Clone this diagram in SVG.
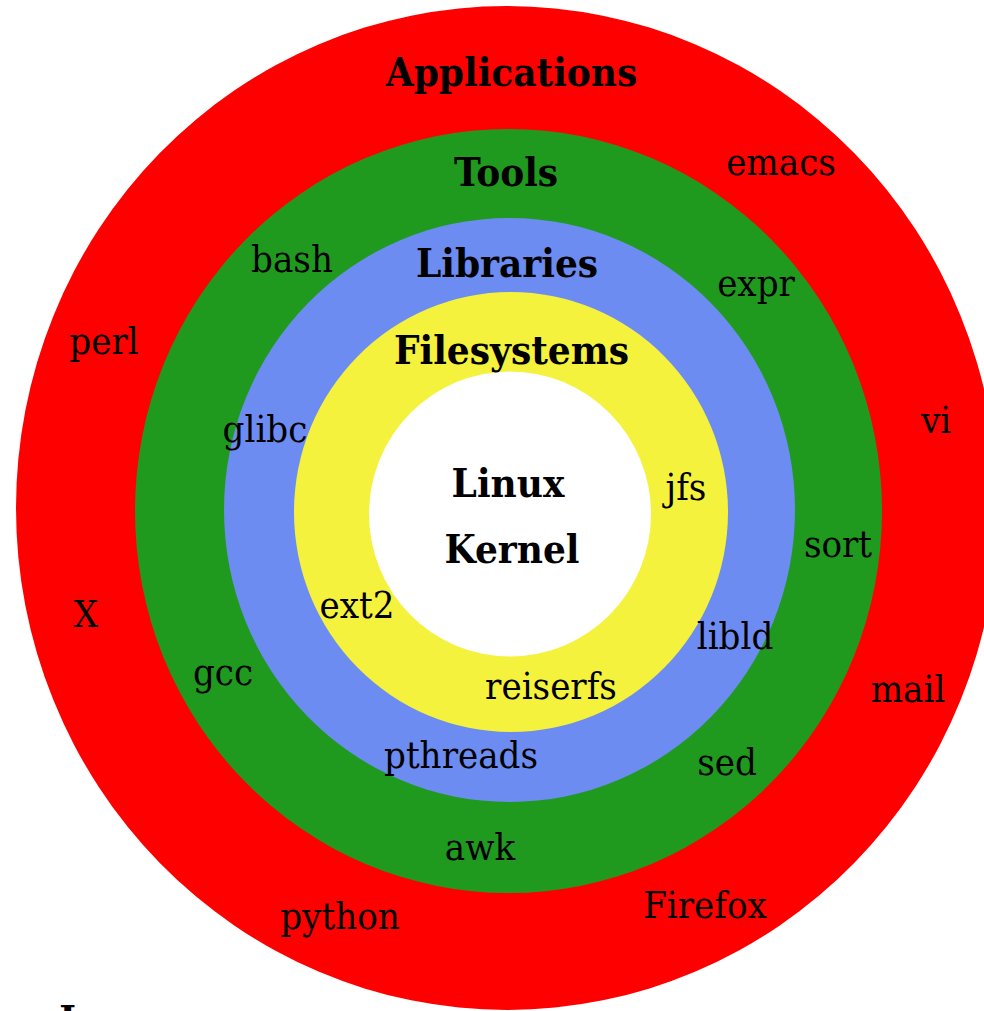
<svg xmlns="http://www.w3.org/2000/svg" width="984" height="1011" viewBox="0 0 984 1011">
<style>
text{font-family:'DejaVu Serif Condensed','DejaVu Serif',serif;font-stretch:condensed;fill:#000;text-anchor:middle}
.h{font-weight:bold;font-size:40px}
.t{font-size:38px}
</style>
<rect width="984" height="1011" fill="#fff"/>
<g id="applications">
<ellipse cx="507" cy="508" rx="491" ry="502" fill="#ff0000"/>
</g>
<g id="tools">
<ellipse cx="508.5" cy="511" rx="373.5" ry="382" fill="#1f9a1f"/>
</g>
<g id="libraries">
<ellipse cx="509.5" cy="510" rx="285.5" ry="292" fill="#6c8cf2"/>
</g>
<g id="filesystems">
<ellipse cx="511" cy="512" rx="217" ry="220" fill="#f5f23d"/>
</g>
<g id="kernel">
<ellipse cx="510" cy="514" rx="141" ry="142.5" fill="#ffffff"/>
</g>
<g id="titles">
<text class="h" x="511.5" y="86">Applications</text>
<text class="h" x="506" y="186">Tools</text>
<text class="h" x="507" y="277">Libraries</text>
<text class="h" x="511.5" y="364">Filesystems</text>
<text class="h" x="508" y="497">Linux</text>
<text class="h" x="512" y="563">Kernel</text>
</g>
<g id="labels">
<text class="t" x="781" y="175">emacs</text>
<text class="t" x="292" y="272">bash</text>
<text class="t" x="756" y="296">expr</text>
<text class="t" x="104" y="354">perl</text>
<text class="t" x="936" y="433">vi</text>
<text class="t" x="265" y="442">glibc</text>
<text class="t" x="686" y="500">jfs</text>
<text class="t" x="838" y="557">sort</text>
<text class="t" x="86" y="627">X</text>
<text class="t" x="357" y="618">ext2</text>
<text class="t" x="735" y="649">libld</text>
<text class="t" x="223" y="685">gcc</text>
<text class="t" x="908" y="702">mail</text>
<text class="t" x="551" y="699">reiserfs</text>
<text class="t" x="461" y="768">pthreads</text>
<text class="t" x="727" y="775">sed</text>
<text class="t" x="480" y="860">awk</text>
<text class="t" x="340" y="929">python</text>
<text class="t" x="705" y="918">Firefox</text>
</g>
<g id="caption">
<text class="h" x="72" y="1034">L</text>
</g>
</svg>
